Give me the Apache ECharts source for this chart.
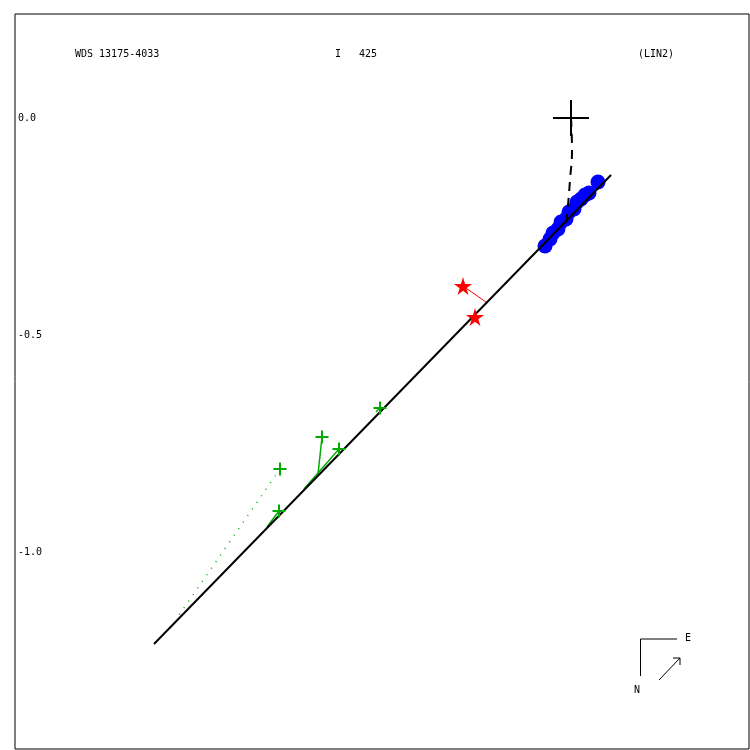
<!DOCTYPE html>
<html><head><meta charset="utf-8">
<script src="https://cdn.jsdelivr.net/npm/echarts@6/dist/echarts.min.js"></script>
<style>html,body{margin:0;padding:0;background:#fff}#c{width:750px;height:750px}</style>
</head><body><div id="c"></div>
<script>
// ---- data (arcsec, relative to primary) ----
const titleLeft = 'WDS 13175-4033';
const titleMid = 'I   425';
const titleRight = '(LIN2)';
const yTickValues = [-1.0, -0.5, 0.0];
const primary = [[0, 0]];
const fitLine = [[-0.9608, -1.2120], [0.0922, -0.1313]];
const ephemeris = [[0, 0], [0.0023, -0.0737], [-0.0023, -0.1429], [-0.0069, -0.2005], [-0.0115, -0.2465]];
const blueObs = [[-0.0599, -0.2949], [-0.0484, -0.2788], [-0.0415, -0.2650], [-0.0300, -0.2558], [-0.0230, -0.2396],
  [-0.0115, -0.2327], [-0.0046, -0.2166], [0.0069, -0.2097], [0.0138, -0.1935], [0.0230, -0.1866],
  [0.0323, -0.1774], [0.0415, -0.1728], [0.0622, -0.1475]];
const redObs = [[-0.2488, -0.3871], [-0.2212, -0.4585]];
const redFit = [[-0.1959, -0.4240], [-0.2212, -0.4585]];
const greenObs = [[-0.4401, -0.6682], [-0.5737, -0.7350], [-0.5346, -0.7627], [-0.6705, -0.8088], [-0.6728, -0.9055]];
const greenFit = [[-0.4493, -0.6774], [-0.5829, -0.8203], [-0.6152, -0.8548], [-0.9078, -1.1521], [-0.7005, -0.9424]];
const greenDotted = [false, false, false, true, false];

const BLACK = '#000000', BLUE = '#0000ff', RED = '#ff0000', GREEN = '#00aa00';
const MONO = '"DejaVu Sans Mono", monospace';

function crossSeries(data, size, color, width) {
  return {
    type: 'custom', data: data, z: 5,
    renderItem: function (params, api) {
      const p = api.coord([api.value(0), api.value(1)]);
      const h = size / 2;
      return { type: 'group', children: [
        { type: 'line', shape: { x1: p[0] - h, y1: p[1], x2: p[0] + h, y2: p[1] }, style: { stroke: color, lineWidth: width } },
        { type: 'line', shape: { x1: p[0], y1: p[1] - h, x2: p[0], y2: p[1] + h }, style: { stroke: color, lineWidth: width } }
      ]};
    }
  };
}

const chart = echarts.init(document.getElementById('c'), null, { renderer: 'canvas' });
const S = 434, px0 = 571, py0 = 118;
const gl = 15, gt = 14, gr = 1, gb = 1;
const xMin = (gl - px0) / S, xMax = xMin + (750 - gl - gr) / S;
const yMax = (py0 - gt) / S, yMin = yMax - (750 - gt - gb) / S;

const option = {
  animation: false,
  grid: { left: gl, top: gt, right: gr, bottom: gb, show: true, borderColor: BLACK, borderWidth: 1, containLabel: false },
  xAxis: { type: 'value', min: xMin, max: xMax, show: false },
  yAxis: {
    type: 'value', min: yMin, max: yMax,
    axisLine: { show: false }, axisTick: { show: false }, splitLine: { show: false },
    axisLabel: { inside: true, margin: 3, customValues: yTickValues, color: BLACK, fontFamily: MONO, fontSize: 10,
      formatter: v => v.toFixed(1) }
  },
  graphic: [
    { type: 'text', left: 75, top: 49, style: { text: titleLeft, font: '10px ' + MONO, fill: BLACK } },
    { type: 'text', left: 335, top: 49, style: { text: titleMid, font: '10px ' + MONO, fill: BLACK } },
    { type: 'text', left: 638, top: 49, style: { text: titleRight, font: '10px ' + MONO, fill: BLACK } },
    { type: 'polyline', shape: { points: [[677, 639], [640.5, 639], [640.5, 676]] }, style: { stroke: BLACK, lineWidth: 1, fill: null } },
    { type: 'text', x: 685, y: 633, style: { text: 'E', font: '10px ' + MONO, fill: BLACK } },
    { type: 'text', x: 634, y: 685, style: { text: 'N', font: '10px ' + MONO, fill: BLACK } },
    { type: 'line', shape: { x1: 659, y1: 680, x2: 680, y2: 658 }, style: { stroke: BLACK, lineWidth: 1 } },
    { type: 'polyline', shape: { points: [[673, 658], [680, 658], [680, 665]] }, style: { stroke: BLACK, lineWidth: 1, fill: null } }
  ],
  series: [
    { type: 'scatter', data: blueObs, symbol: 'circle', symbolSize: 15, itemStyle: { color: BLUE, opacity: 1 }, z: 2 },
    { type: 'line', data: fitLine, symbol: 'none', lineStyle: { color: BLACK, width: 2 }, z: 3 },
    { type: 'line', data: ephemeris, symbol: 'none', smooth: true, lineStyle: { color: BLACK, width: 2, type: [9, 7] }, z: 3 },
    { type: 'lines', coordinateSystem: 'cartesian2d', z: 2,
      data: [{ coords: [redObs[0], redFit[0]] }],
      lineStyle: { color: RED, width: 1, opacity: 1 } },
    { type: 'scatter', data: redObs, symbol: 'path://M50,0 L61,35 L98,35 L68,57 L79,91 L50,70 L21,91 L32,57 L2,35 L39,35 Z',
      symbolSize: 18, itemStyle: { color: RED, opacity: 1 }, z: 4 },
    { type: 'lines', coordinateSystem: 'cartesian2d', z: 2,
      data: greenObs.map((p, i) => ({ coords: [p, greenFit[i]], lineStyle: greenDotted[i] ? { type: [1, 7], width: 1.5 } : { type: 'solid', width: 1.5 } })),
      lineStyle: { color: GREEN, opacity: 1 } },
    crossSeries(greenObs, 13, GREEN, 2),
    crossSeries(primary, 36, BLACK, 2)
  ]
};
chart.setOption(option);
</script></body></html>
